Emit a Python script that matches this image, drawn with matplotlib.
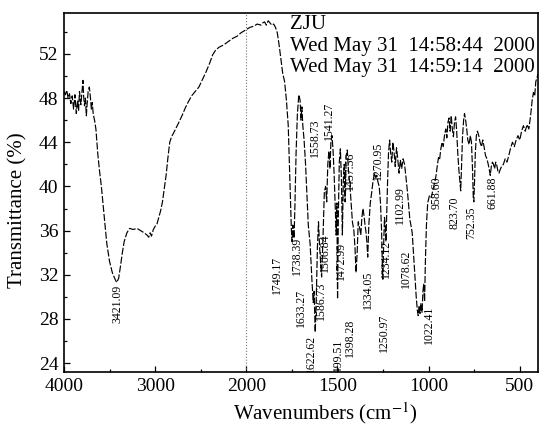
import numpy as np
import matplotlib.pyplot as plt

plt.rcParams["font.family"] = ["Liberation Serif", "DejaVu Serif"]
plt.rcParams["mathtext.fontset"] = "stix"

# IR spectrum (wavenumber in cm-1, transmittance in %)
wavenumber = [
    4000, 3985, 3970, 3955, 3940, 3925, 3910, 3895, 3880, 3865, 3850, 3840,
    3830, 3815, 3800, 3792, 3785, 3775, 3765, 3755, 3745, 3735, 3722, 3712,
    3700, 3690, 3680, 3665, 3650, 3630, 3610, 3590, 3570, 3550, 3530, 3500,
    3470, 3440, 3421, 3400, 3380, 3360, 3340, 3310, 3280, 3240, 3200, 3160,
    3120, 3090, 3070, 3055, 3040, 3020, 3000, 2980, 2960, 2940, 2920, 2900,
    2880, 2860, 2840, 2820, 2800, 2770, 2740, 2700, 2670, 2640, 2600, 2560,
    2520, 2480, 2440, 2400, 2370, 2340, 2300, 2250, 2200, 2150, 2100, 2060,
    2020, 2000, 1980, 1960, 1940, 1920, 1910, 1900, 1890, 1880, 1870, 1860,
    1850, 1840, 1830, 1820, 1810, 1800, 1790, 1780, 1770, 1760, 1753, 1749,
    1745, 1741, 1738, 1733, 1727, 1720, 1712, 1705, 1700, 1695, 1690, 1683,
    1675, 1668, 1660, 1650, 1640, 1633, 1628, 1622, 1616, 1610, 1604, 1598,
    1592, 1587, 1580, 1572, 1565, 1559, 1553, 1547, 1541, 1536, 1530, 1524,
    1518, 1512, 1507, 1503, 1499.5, 1495, 1490, 1484, 1478, 1473, 1468, 1463,
    1458, 1452, 1446, 1440, 1432, 1425, 1418, 1410, 1404, 1398, 1392, 1386,
    1378, 1372, 1366, 1360, 1354, 1348, 1343, 1338, 1334, 1328, 1320, 1312,
    1304, 1296, 1290, 1284, 1278, 1271, 1264, 1258, 1254, 1251, 1247, 1242,
    1238, 1234, 1230, 1225, 1220, 1214, 1208, 1202, 1196, 1190, 1183, 1176,
    1170, 1162, 1155, 1148, 1140, 1132, 1124, 1116, 1110, 1103, 1096, 1090,
    1085, 1079, 1073, 1068, 1062, 1057, 1052, 1047, 1042, 1036, 1031, 1027,
    1022, 1018, 1012, 1005, 995, 985, 975, 966, 959, 953, 946, 940,
    933, 926, 920, 913, 906, 900, 894, 888, 882, 876, 870, 864,
    858, 852, 846, 840, 834, 828, 824, 819, 814, 808, 803, 797,
    791, 785, 778, 771, 765, 759, 755, 752, 748, 744, 738, 732,
    725, 718, 710, 703, 696, 688, 680, 673, 667, 662, 656, 650,
    644, 638, 632, 626, 620, 614, 608, 600, 590, 580, 570, 560,
    550, 540, 530, 520, 510, 500, 490, 480, 470, 460, 450, 440,
    432, 425, 418, 412, 406, 400,
]
transmittance = [
    48.6, 48.3, 48.7, 48.0, 48.4, 47.5, 48.2, 47.0, 48.3, 46.6, 47.8, 46.9,
    48.6, 47.4, 48.9, 49.6, 48.2, 47.3, 48.0, 46.4, 47.6, 48.6, 49.0, 48.2,
    47.0, 47.6, 46.6, 46.0, 45.2, 43.0, 41.4, 40.0, 38.2, 36.5, 34.8, 33.2,
    32.2, 31.6, 31.3, 31.7, 32.8, 34.0, 35.0, 35.8, 36.2, 36.1, 36.2, 36.0,
    35.8, 35.6, 35.4, 35.8, 35.5, 36.1, 36.4, 36.6, 37.2, 37.8, 38.6, 39.8,
    41.0, 42.6, 44.0, 44.5, 44.8, 45.3, 45.8, 46.5, 47.1, 47.6, 48.2, 48.6,
    49.0, 49.7, 50.4, 51.2, 51.9, 52.3, 52.6, 52.8, 53.1, 53.4, 53.6, 53.9,
    54.1, 54.2, 54.4, 54.5, 54.7, 54.6, 54.8, 54.9, 54.6, 55.0, 54.8, 54.6,
    54.7, 54.4, 53.9, 52.8, 51.5, 50.2, 49.5, 47.8, 45.5, 40.0, 36.2, 35.0,
    36.5, 35.8, 35.3, 38.5, 43.0, 46.5, 48.3, 47.8, 46.0, 47.2, 45.5, 44.2,
    42.0, 39.5, 36.5, 34.8, 31.5, 29.5, 30.5, 26.8, 30.0, 34.5, 36.8, 34.5,
    33.0, 31.8, 35.0, 39.5, 40.0, 38.6, 42.0, 43.2, 41.6, 44.0, 44.6, 43.2,
    41.0, 38.0, 35.6, 38.5, 29.8, 37.5, 42.2, 43.4, 40.5, 35.6, 40.5, 42.0,
    38.6, 42.8, 43.3, 41.5, 40.2, 38.5, 36.8, 36.0, 34.5, 32.2, 34.0, 36.8,
    36.2, 35.6, 37.2, 38.0, 37.3, 36.4, 35.8, 34.8, 33.6, 36.5, 38.5, 39.5,
    40.6, 41.2, 40.8, 41.0, 40.4, 40.0, 38.5, 36.0, 33.0, 31.6, 34.5, 37.2,
    36.5, 35.0, 37.5, 40.5, 43.0, 44.2, 43.0, 42.2, 44.0, 43.2, 41.8, 43.5,
    42.6, 41.2, 42.4, 41.6, 42.5, 42.0, 40.8, 39.5, 38.4, 37.0, 36.4, 35.8,
    34.5, 33.0, 31.5, 30.0, 28.8, 28.3, 29.2, 28.5, 29.4, 28.6, 30.5, 31.2,
    29.6, 33.0, 36.5, 38.5, 39.2, 39.0, 39.8, 40.4, 41.0, 41.8, 42.6, 42.4,
    43.4, 44.0, 43.6, 44.6, 45.2, 44.4, 45.8, 46.2, 45.0, 46.4, 45.2, 44.5,
    45.8, 46.3, 45.0, 43.0, 41.5, 40.4, 39.6, 42.0, 44.5, 46.0, 46.6, 46.0,
    45.2, 44.2, 43.8, 44.6, 44.0, 41.5, 39.0, 38.6, 40.5, 43.0, 44.6, 45.0,
    44.6, 44.0, 43.6, 44.2, 43.6, 42.8, 42.5, 42.0, 41.5, 41.0, 41.8, 42.2,
    42.0, 41.6, 42.2, 41.9, 41.4, 41.2, 41.5, 41.8, 42.0, 42.5, 42.2, 42.8,
    43.5, 44.0, 43.6, 44.2, 44.6, 44.2, 45.0, 45.5, 45.0, 45.6, 45.2, 46.5,
    47.8, 48.5, 48.2, 49.5, 49.8, 50.2,
]

# peak labels and where their text sits
peak_labels = [
    "3421.09", "1749.17", "1738.39", "1633.27", "1622.62", "1586.73",
    "1558.73", "1541.27", "1506.84", "1499.51", "1472.99", "1457.56",
    "1398.28", "1334.05", "1270.95", "1250.97", "1234.12", "1102.99",
    "1078.62", "1022.41", "958.60", "823.70", "752.35", "661.88",
]
label_wn = [
    3410, 1830, 1720, 1698, 1643, 1593,
    1621, 1544, 1571, 1495, 1479, 1429,
    1434, 1335, 1280, 1247, 1236, 1159,
    1126, 1000, 956, 857, 764, 648,
]
label_t = [
    31.1, 33.7, 35.4, 30.7, 26.6, 31.4,
    42.7, 44.2, 35.7, 26.2, 35.0, 39.7,
    28.0, 32.4, 40.6, 28.5, 35.2, 36.6,
    34.3, 29.2, 40.9, 39.1, 38.2, 40.9,
]
label_above = [
    False, False, False, False, False, False,
    True, True, False, False, False, True,
    False, False, True, False, False, True,
    False, False, False, False, False, False,
]

header_lines = ["ZJU", "Wed May 31  14:58:44  2000", "Wed May 31  14:59:14  2000"]


def forward(x):
    x = np.asarray(x, dtype=float)
    return np.where(x > 2000, 2000 + (x - 2000) / 2, x)


def inverse(u):
    u = np.asarray(u, dtype=float)
    return np.where(u > 2000, 2000 + (u - 2000) * 2, u)


fig = plt.figure(figsize=(5.4, 4.25), dpi=100)
ax = fig.add_axes([64 / 540, 53 / 425, 474 / 540, 359 / 425])
ax.set_xscale("function", functions=(forward, inverse))

ax.axvline(2000, color="0.45", ls=":", lw=0.8)
# scanned trace looks broken up, so a long-dash line
ax.plot(wavenumber, transmittance, color="black", lw=0.85, ls=(0, (6, 1.6)))

for text, wn, t, above in zip(peak_labels, label_wn, label_t, label_above):
    ax.text(wn, t, text, rotation=90, ha="center",
            va="bottom" if above else "top", fontsize=8.5, clip_on=True)

for i, line in enumerate(header_lines):
    ax.text(0.477, 0.967 - i * 0.06, line, transform=ax.transAxes,
            ha="left", va="center", fontsize=15)

ax.set_xlim(4000, 400)
ax.set_ylim(23.2, 55.7)
ax.set_xticks([4000, 3000, 2000, 1500, 1000, 500])
ax.set_xticks([3500, 2500, 1750, 1250, 750], minor=True)
ax.set_yticks(np.arange(24, 53, 4))
ax.set_yticks(np.arange(26, 55, 4), minor=True)

ax.tick_params(which="both", direction="in", top=False, right=False,
               labelsize=14, width=0.9)
ax.tick_params(which="major", length=4, pad=4)
ax.tick_params(which="minor", length=2.5)
for s in ax.spines.values():
    s.set_linewidth(1.2)

ax.set_xlabel("Wavenumbers (cm$^{-1}$)", fontsize=15)
ax.set_ylabel("Transmittance (%)", fontsize=15)
ax.xaxis.set_label_coords(0.551, -0.078)
ax.yaxis.set_label_coords(-0.078, 0.451)

fig.savefig("out.png", dpi=100)
